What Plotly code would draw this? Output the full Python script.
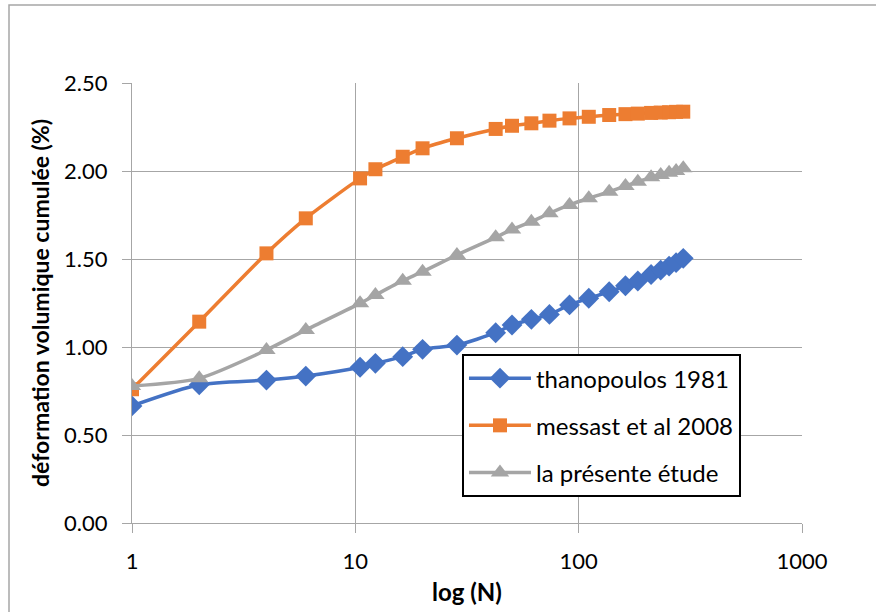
import plotly.graph_objects as go

# Number of cycles N (shared by the three series)
cycles = [1, 2, 4, 6, 10.5, 12.3, 16.3, 20, 28.5, 42.5, 50.3, 61.4, 74, 91,
          111, 137, 162, 184, 211, 233, 254, 273, 294]

thanopoulos_1981 = [0.665, 0.785, 0.812, 0.835, 0.885, 0.907, 0.945, 0.987, 1.011,
                    1.081, 1.125, 1.157, 1.185, 1.239, 1.277, 1.314, 1.348, 1.375,
                    1.412, 1.437, 1.460, 1.479, 1.504]
messast_2008 = [0.760, 1.144, 1.532, 1.731, 1.958, 2.010, 2.081, 2.129, 2.186,
                2.239, 2.257, 2.271, 2.286, 2.299, 2.308, 2.318, 2.323, 2.326,
                2.330, 2.332, 2.334, 2.336, 2.337]
presente_etude = [0.778, 0.822, 0.983, 1.097, 1.248, 1.295, 1.377, 1.428, 1.523,
                  1.623, 1.668, 1.712, 1.760, 1.807, 1.845, 1.882, 1.915, 1.939,
                  1.964, 1.977, 1.990, 2.000, 2.015]

series_names = ["thanopoulos 1981", "messast et al 2008", "la présente étude"]
x_tick_vals = [1, 10, 100, 1000]
x_tick_text = ["1", "10", "100", "1000"]
y_tick_vals = [0, 0.5, 1.0, 1.5, 2.0, 2.5]
y_tick_text = ["0.00", "0.50", "1.00", "1.50", "2.00", "2.50"]

FONT = "Lato"
GRID = "#a6a6a6"

fig = go.Figure()
styles = [
    dict(color="#4472C4", symbol="diamond", size=16),
    dict(color="#ED7D31", symbol="square", size=14),
    dict(color="#A5A5A5", symbol="triangle-up", size=16),
]
for i, (name, vals, st) in enumerate(zip(series_names,
                                         [thanopoulos_1981, messast_2008, presente_etude],
                                         styles)):
    fig.add_trace(go.Scatter(
        x=cycles, y=vals, name=name, mode="lines+markers",
        legendgroup=f"g{i}",
        line=dict(color=st["color"], width=3.5, shape="spline", smoothing=0.7),
        marker=dict(color=st["color"], symbol=st["symbol"], size=st["size"]),
    ))

fig.update_layout(
    width=876, height=612,
    margin=dict(l=132, r=74, t=83, b=89),
    paper_bgcolor="white", plot_bgcolor="white",
    font=dict(family=FONT, size=22, color="black"),
    showlegend=True,
    legend=dict(
        x=0.4925, y=0.384, xanchor="left", yanchor="top",
        bordercolor="black", borderwidth=2, bgcolor="white",
        font=dict(family=FONT, size=24, color="black"),
        traceorder="grouped", tracegroupgap=13,
        itemwidth=62,
    ),
    xaxis=dict(
        type="log", range=[0, 3],
        tickvals=x_tick_vals, ticktext=x_tick_text,
        showgrid=True, gridcolor=GRID, gridwidth=1,
        showline=True, linecolor=GRID, linewidth=1,
        ticks="outside", ticklen=9, tickcolor=GRID,
        ticklabelstandoff=10,
        tickfont=dict(family=FONT, size=22, color="black"),
        zeroline=False,
        title=dict(text="<b>log (N)</b>", font=dict(family=FONT, size=24, color="black"),
                   standoff=10),
    ),
    yaxis=dict(
        range=[0, 2.5],
        tickvals=y_tick_vals, ticktext=y_tick_text,
        showgrid=True, gridcolor=GRID, gridwidth=1,
        showline=True, linecolor=GRID, linewidth=1,
        ticks="outside", ticklen=9, tickcolor=GRID,
        ticklabelstandoff=10,
        tickfont=dict(family=FONT, size=22, color="black"),
        zeroline=False,
        title=dict(text="<b>déformation volumique cumulée (%)</b>",
                   font=dict(family=FONT, size=23, color="black"), standoff=8),
    ),
    shapes=[dict(type="rect", xref="paper", yref="paper",
                 x0=(9 - 132) / 670, x1=(890 - 132) / 670,
                 y0=(523 - 630) / 440, y1=(523 - 5) / 440,
                 line=dict(color="#a6a6a6", width=1.5), fillcolor="rgba(0,0,0,0)",
                 layer="below")],
)

fig.write_html("out.html")
